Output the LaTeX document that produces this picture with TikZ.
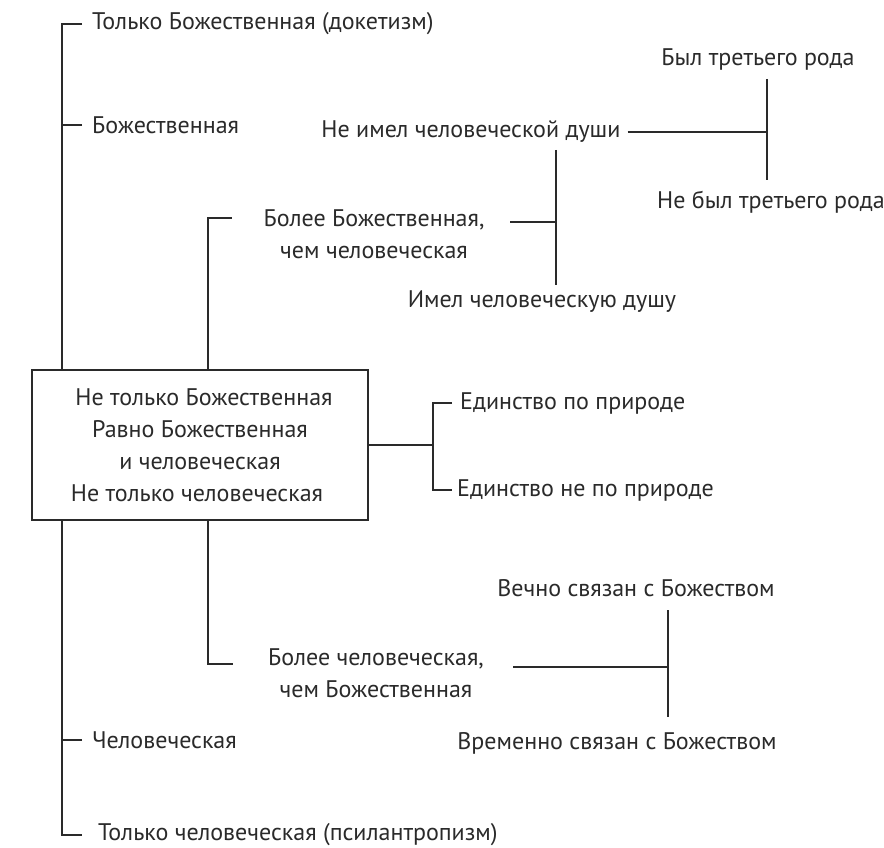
\documentclass[tikz,border=0pt]{standalone}
\usepackage{fontspec}
\setmainfont{PT Sans}
\usetikzlibrary{calc}
\definecolor{ink}{HTML}{2A2A2A}
\tikzset{
  lbl/.style={font=\fontsize{24}{32}\selectfont, text=ink, inner sep=0pt, align=center},
  mainln/.style={draw=ink, line width=2.2pt},
  subln/.style={draw=ink, line width=1.6pt},
}
\begin{document}
\begin{tikzpicture}[x=1pt,y=-1pt]
\useasboundingbox (0,0) rectangle (884,848);
% central box
\node[draw=ink, line width=2.2pt, minimum width=336pt, minimum height=150pt, inner sep=0pt,
      font=\fontsize{24}{32}\selectfont, text=ink, align=center] (box) at (200,445)
  {\hspace*{8pt}Не только Божественная\\Равно Божественная\hspace*{24pt}\\и человеческая\hspace*{22pt}\\Не только человеческая\hspace*{6pt}};
% left column labels
\node[lbl, anchor=west] (t1) at (92,24) {Только Божественная (докетизм)};
\node[lbl, anchor=west] (t2) at (92,125) {Божественная};
\node[lbl, anchor=west] (t3) at (92,740) {Человеческая};
\node[lbl, anchor=west] (t4) at (98,835) {Только человеческая (псилантропизм)};
\coordinate (sp) at (62,0);
% upper branch
\node[lbl] (mdiv) at (374,234) {Более Божественная,\\чем человеческая};
\node[lbl] (nosoul) at (471,132) {Не имел человеческой души};
\node[lbl] (soul) at (542,302) {Имел человеческую душу};
\node[lbl] (third) at (758,60) {Был третьего рода};
\node[lbl] (nothird) at (771,202) {Не был третьего рода};
% right branch
\node[lbl, anchor=west] (un1) at (460,403) {Единство по природе};
\node[lbl, anchor=west] (un2) at (457,490) {Единство не по природе};
% lower branch
\node[lbl] (mhum) at (376,673) {Более человеческая,\\чем Божественная};
\node[lbl] (eter) at (636,588) {Вечно связан с Божеством};
\node[lbl] (temp) at (617,743) {Временно связан с Божеством};
\coordinate (sp2) at (208,0);
\coordinate (v1) at (556,0);
\coordinate (v2) at (767,0);
\coordinate (v3) at (433,0);
\coordinate (v4) at (668,0);
% left spine
\draw[mainln] ([xshift=-10pt]t1.west) -- (t1.west -| sp) -- (sp |- box.north);
\draw[subln] ([xshift=-10pt]t2.west) -- (t2.west -| sp);
\draw[mainln] (sp |- box.south) -- (sp |- t4.west) -- ([xshift=-16pt]t4.west);
\draw[subln] ([xshift=-10pt]t3.west) -- (t3.west -| sp);
% upper branch
\draw[subln] (sp2 |- box.north) -- (sp2 |- 0,218) -- (232,218);
\draw[mainln] (510,222) -- (v1 |- 0,222);
\draw[subln] (v1 |- 0,150) -- (v1 |- 0,285);
\draw[subln] ([xshift=7pt]nosoul.east) -- (v2 |- nosoul.east);
\draw[subln] (v2 |- 0,79) -- (v2 |- 0,180);
% right branch
\draw[mainln] (box.east) -- (v3 |- box.east);
\draw[subln] (452,403) -- (v3 |- un1.west) -- (v3 |- un2.west) -- (452,490);
% lower branch
\draw[subln] (sp2 |- box.south) -- (sp2 |- 0,664) -- (233,664);
\draw[mainln] (513,667) -- (v4 |- 0,667);
\draw[subln] (v4 |- 0,610) -- (v4 |- 0,717);
\end{tikzpicture}
\end{document}
